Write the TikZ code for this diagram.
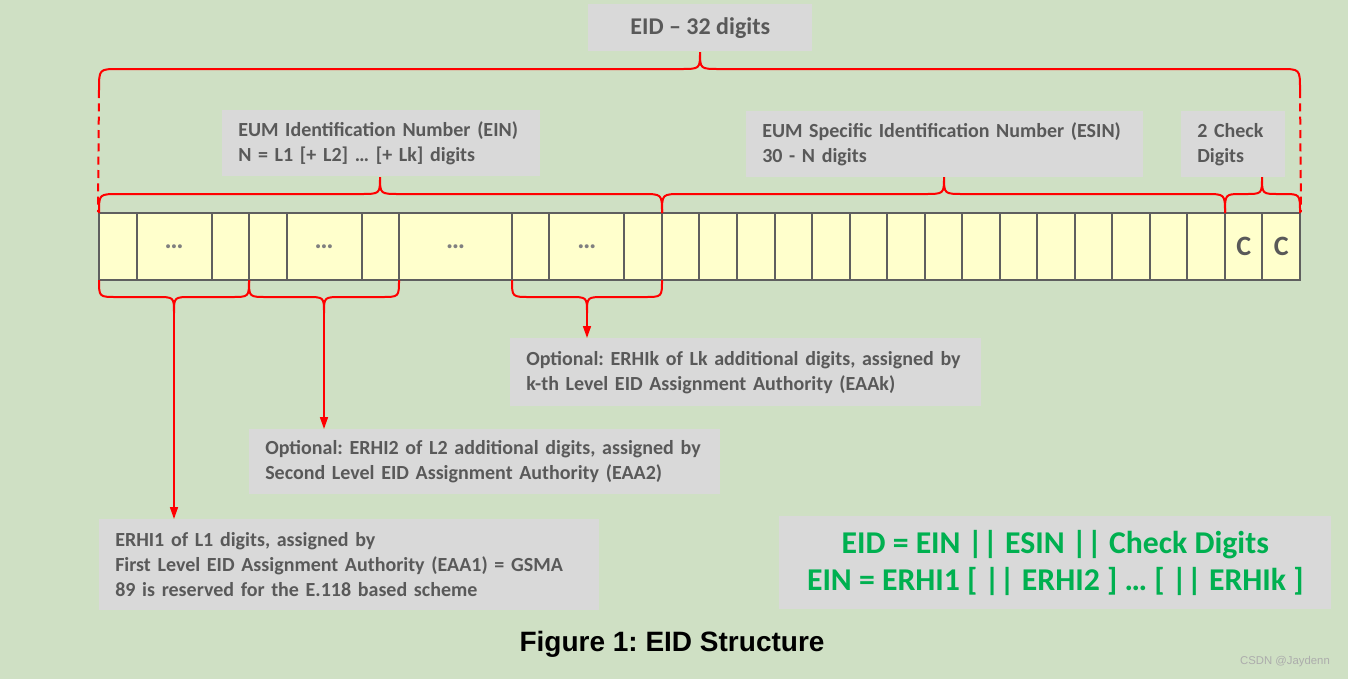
\documentclass[tikz,border=0pt]{standalone}
\usepackage{fontspec}
\setmainfont{Carlito}
\newfontfamily\arialfont{Liberation Sans}
\usetikzlibrary{arrows.meta, positioning, calc}
\definecolor{bggreen}{RGB}{207,224,196}
\definecolor{boxgray}{RGB}{217,217,217}
\definecolor{txtgray}{RGB}{89,89,89}
\definecolor{dotgray}{RGB}{128,128,128}
\definecolor{cellyellow}{RGB}{255,255,204}
\definecolor{cellline}{RGB}{95,95,95}
\definecolor{eidred}{RGB}{255,0,0}
\definecolor{eidgreen}{RGB}{0,176,80}
\frenchspacing

\begin{document}
\begin{tikzpicture}[
    x=0.75pt, y=-0.75pt,
    gbox/.style={fill=boxgray, text=txtgray, font=\bfseries\fontsize{15}{18.75}\selectfont,
                 align=left, anchor=north west, inner xsep=12pt, inner ysep=0pt},
    cell/.style={draw=cellline, fill=cellyellow, line width=1.5pt, minimum height=50.25pt,
                 inner sep=0pt, text=dotgray, font=\bfseries\fontsize{20}{20}\selectfont},
    brace/.style={draw=eidred, line width=1.5pt},
    arrow/.style={draw=eidred, fill=eidred, line width=1.2pt, -{Triangle[length=9pt, width=6pt]}}
]
    \fill[bggreen] (0,0) rectangle (1348,679);
    \useasboundingbox (0,0) rectangle (1348,679);

    % the 32 digits
    \foreach \a/\b/\t [count=\i] in {0/1/{}, 1/3/{\dots}, 3/4/{}, 4/5/{}, 5/7/{\dots}, 7/8/{}, 8/11/{\dots}, 11/12/{},
        12/14/{\dots}, 14/15/{}, 15/16/{}, 16/17/{}, 17/18/{}, 18/19/{}, 19/20/{}, 20/21/{}, 21/22/{},
        22/23/{}, 23/24/{}, 24/25/{}, 25/26/{}, 26/27/{}, 27/28/{}, 28/29/{}, 29/30/{},
        30/31/{\color{txtgray}\fontsize{21}{21}\selectfont C}, 31/32/{\color{txtgray}\fontsize{21}{21}\selectfont C}}
        \node[cell, minimum width={(\b-\a)*28.15pt}] (c\i) at ({99+(\a+\b)*18.765},246.5) {\t};

    % labels
    \node[gbox, minimum width=168pt, minimum height=35.25pt, align=center,
          font=\bfseries\fontsize{18}{18}\selectfont] (eid) at (588,4) {EID -- 32 digits};
    \node[gbox, text width=214.5pt, minimum height=49.5pt] (ein) at (222,110)
        {EUM Identification Number (EIN)\\N = L1 [+ L2] \dots{} [+ Lk] digits};
    \node[gbox, text width=273.75pt, minimum height=49.5pt] (esin) at (746,111)
        {EUM Specific Identification Number (ESIN)\\30 - N digits};
    \node[gbox, text width=54pt, minimum height=49.5pt] (chk) at (1181,111) {2 Check\\Digits};
    \node[gbox, text width=329.25pt, minimum height=51pt] (erhik) at (510,338)
        {Optional: ERHIk of Lk additional digits, assigned by\\k-th Level EID Assignment Authority (EAAk)};
    \node[gbox, text width=329.25pt, minimum height=48.75pt] (erhi2) at (249,429)
        {Optional: ERHI2 of L2 additional digits, assigned by\\Second Level EID Assignment Authority (EAA2)};
    \node[gbox, text width=351pt, minimum height=68.25pt] (erhi1) at (99,519)
        {ERHI1 of L1 digits, assigned by\\First Level EID Assignment Authority (EAA1) = GSMA\\89 is reserved for the E.118 based scheme};
    \node[gbox, minimum width=414pt, minimum height=69.75pt, align=center, text=eidgreen,
          font=\bfseries\fontsize{23.8}{27.75}\selectfont] (formula) at (779,516)
        {EID = EIN || ESIN || Check Digits\\EIN = ERHI1 [ || ERHI2 ] \dots{} [ || ERHIk ]};

    \node[font=\arialfont\bfseries\fontsize{21}{21}\selectfont] (caption) at (672,644) {Figure 1: EID Structure};
    \node[font=\arialfont\fontsize{8.5}{8.5}\selectfont, text=gray!65] (mark) at (1285,662) {CSDN @Jaydenn};

    % braces
    \foreach \xa/\xb/\xm/\r/\ye/\yl/\yt/\nm in {99/1300/700/20/90/69/52/teid,
        99/662/380/20/213/194/177/tein, 662/1225/944/20/213/194/177/tesin,
        1225/1300/1262/17/213/194/177/tchk, 99/249/174/18/280/297/313/t1,
        249/399/324/18/280/297/313/t2, 512/662/587/18/280/297/313/tk}
    {
        \draw[brace] (\xa,\ye) .. controls (\xa,\yl) .. (\xa+\r,\yl) -- (\xm-\r,\yl)
            .. controls (\xm,\yl) .. (\xm,\yt) .. controls (\xm,\yl) .. (\xm+\r,\yl)
            -- (\xb-\r,\yl) .. controls (\xb,\yl) .. (\xb,\ye);
        \coordinate (\nm) at (\xm,\yt);
    }
    \draw[brace, dash pattern=on 6pt off 4pt] (99,90) -- (c1.north west);
    \draw[brace, dash pattern=on 6pt off 4pt] (1300,90) -- (c27.north east);

    \draw[arrow] (t1) -- (erhi1.north -| t1);
    \draw[arrow] (t2) -- (erhi2.north -| t2);
    \draw[arrow] (tk) -- (erhik.north -| tk);
\end{tikzpicture}
\end{document}
